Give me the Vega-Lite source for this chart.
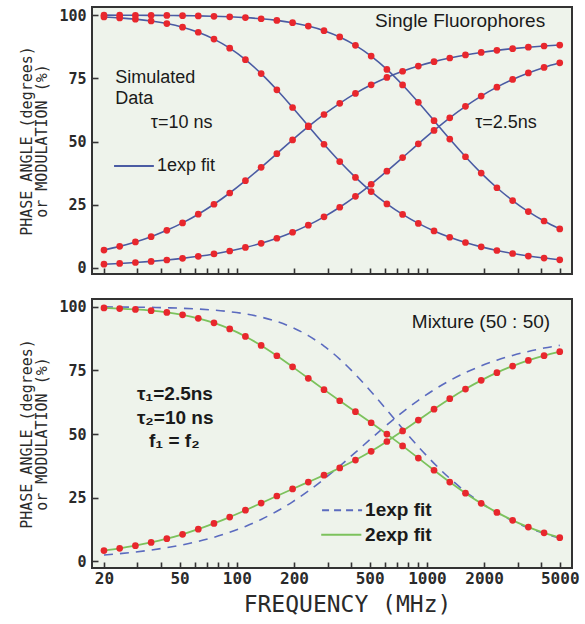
{
  "$schema": "https://vega.github.io/schema/vega-lite/v6.json",
  "background": "white",
  "padding": {"left": 18, "top": 6, "right": 8, "bottom": 4},
  "spacing": 21,
  "config": {
    "view": {"stroke": "#333333", "strokeWidth": 2, "fill": "#eef3eb"},
    "axis": {
      "domain": false, "grid": false, "tickSize": -6, "tickWidth": 1.6, "tickColor": "#333333",
      "labelFont": "DejaVu Sans Mono", "labelFontWeight": "bold", "labelFontSize": 16, "labelColor": "#2a2a2a",
      "labelOverlap": false, "labelFlush": false, "labelBound": false,
      "titleFont": "DejaVu Sans Mono", "titleFontWeight": "normal", "titleColor": "#2a2a2a"
    }
  },
  "datasets": {
    "single": [
      {"f": 20, "v": 7.07, "s": "P10"}, {"f": 24.19, "v": 8.53, "s": "P10"}, {"f": 29.27, "v": 10.29, "s": "P10"}, {"f": 35.41, "v": 12.38, "s": "P10"}, {"f": 42.83, "v": 14.87, "s": "P10"}, {"f": 51.82, "v": 17.81, "s": "P10"}, {"f": 62.68, "v": 21.24, "s": "P10"}, {"f": 75.83, "v": 25.18, "s": "P10"}, {"f": 91.74, "v": 29.64, "s": "P10"}, {"f": 110.98, "v": 34.53, "s": "P10"}, {"f": 134.26, "v": 39.78, "s": "P10"}, {"f": 162.42, "v": 45.2, "s": "P10"}, {"f": 196.48, "v": 50.64, "s": "P10"}, {"f": 237.69, "v": 55.84, "s": "P10"}, {"f": 287.55, "v": 60.69, "s": "P10"}, {"f": 347.86, "v": 65.11, "s": "P10"}, {"f": 420.83, "v": 69.03, "s": "P10"}, {"f": 509.1, "v": 72.42, "s": "P10"}, {"f": 615.89, "v": 75.33, "s": "P10"}, {"f": 745.07, "v": 77.79, "s": "P10"}, {"f": 901.35, "v": 79.85, "s": "P10"}, {"f": 1090.4, "v": 81.59, "s": "P10"}, {"f": 1319.1, "v": 83.03, "s": "P10"}, {"f": 1595.8, "v": 84.23, "s": "P10"}, {"f": 1930.5, "v": 85.22, "s": "P10"}, {"f": 2335.5, "v": 86.05, "s": "P10"}, {"f": 2825.3, "v": 86.73, "s": "P10"}, {"f": 3417.9, "v": 87.3, "s": "P10"}, {"f": 4134.9, "v": 87.77, "s": "P10"}, {"f": 5000, "v": 88.15, "s": "P10"},
      {"f": 20, "v": 99.24, "s": "M10"}, {"f": 24.19, "v": 98.89, "s": "M10"}, {"f": 29.27, "v": 98.39, "s": "M10"}, {"f": 35.41, "v": 97.67, "s": "M10"}, {"f": 42.83, "v": 96.65, "s": "M10"}, {"f": 51.82, "v": 95.21, "s": "M10"}, {"f": 62.68, "v": 93.21, "s": "M10"}, {"f": 75.83, "v": 90.5, "s": "M10"}, {"f": 91.74, "v": 86.92, "s": "M10"}, {"f": 110.98, "v": 82.38, "s": "M10"}, {"f": 134.26, "v": 76.86, "s": "M10"}, {"f": 162.42, "v": 70.46, "s": "M10"}, {"f": 196.48, "v": 63.45, "s": "M10"}, {"f": 237.69, "v": 56.15, "s": "M10"}, {"f": 287.55, "v": 48.92, "s": "M10"}, {"f": 347.86, "v": 42.07, "s": "M10"}, {"f": 420.83, "v": 35.79, "s": "M10"}, {"f": 509.1, "v": 30.2, "s": "M10"}, {"f": 615.89, "v": 25.33, "s": "M10"}, {"f": 745.07, "v": 21.16, "s": "M10"}, {"f": 901.35, "v": 17.61, "s": "M10"}, {"f": 1090.4, "v": 14.63, "s": "M10"}, {"f": 1319.1, "v": 12.14, "s": "M10"}, {"f": 1595.8, "v": 10.06, "s": "M10"}, {"f": 1930.5, "v": 8.33, "s": "M10"}, {"f": 2335.5, "v": 6.89, "s": "M10"}, {"f": 2825.3, "v": 5.7, "s": "M10"}, {"f": 3417.9, "v": 4.71, "s": "M10"}, {"f": 4134.9, "v": 3.9, "s": "M10"}, {"f": 5000, "v": 3.22, "s": "M10"},
      {"f": 20, "v": 1.47, "s": "P25"}, {"f": 24.19, "v": 1.77, "s": "P25"}, {"f": 29.27, "v": 2.15, "s": "P25"}, {"f": 35.41, "v": 2.59, "s": "P25"}, {"f": 42.83, "v": 3.14, "s": "P25"}, {"f": 51.82, "v": 3.79, "s": "P25"}, {"f": 62.68, "v": 4.59, "s": "P25"}, {"f": 75.83, "v": 5.54, "s": "P25"}, {"f": 91.74, "v": 6.7, "s": "P25"}, {"f": 110.98, "v": 8.09, "s": "P25"}, {"f": 134.26, "v": 9.75, "s": "P25"}, {"f": 162.42, "v": 11.74, "s": "P25"}, {"f": 196.48, "v": 14.12, "s": "P25"}, {"f": 237.69, "v": 16.92, "s": "P25"}, {"f": 287.55, "v": 20.21, "s": "P25"}, {"f": 347.86, "v": 24.0, "s": "P25"}, {"f": 420.83, "v": 28.31, "s": "P25"}, {"f": 509.1, "v": 33.09, "s": "P25"}, {"f": 615.89, "v": 38.25, "s": "P25"}, {"f": 745.07, "v": 43.64, "s": "P25"}, {"f": 901.35, "v": 49.09, "s": "P25"}, {"f": 1090.4, "v": 54.38, "s": "P25"}, {"f": 1319.1, "v": 59.38, "s": "P25"}, {"f": 1595.8, "v": 63.91, "s": "P25"}, {"f": 1930.5, "v": 67.97, "s": "P25"}, {"f": 2335.5, "v": 71.5, "s": "P25"}, {"f": 2825.3, "v": 74.54, "s": "P25"}, {"f": 3417.9, "v": 77.12, "s": "P25"}, {"f": 4134.9, "v": 79.3, "s": "P25"}, {"f": 5000, "v": 81.12, "s": "P25"},
      {"f": 20, "v": 99.97, "s": "M25"}, {"f": 24.19, "v": 99.95, "s": "M25"}, {"f": 29.27, "v": 99.93, "s": "M25"}, {"f": 35.41, "v": 99.9, "s": "M25"}, {"f": 42.83, "v": 99.85, "s": "M25"}, {"f": 51.82, "v": 99.78, "s": "M25"}, {"f": 62.68, "v": 99.68, "s": "M25"}, {"f": 75.83, "v": 99.53, "s": "M25"}, {"f": 91.74, "v": 99.32, "s": "M25"}, {"f": 110.98, "v": 99.01, "s": "M25"}, {"f": 134.26, "v": 98.55, "s": "M25"}, {"f": 162.42, "v": 97.91, "s": "M25"}, {"f": 196.48, "v": 96.98, "s": "M25"}, {"f": 237.69, "v": 95.67, "s": "M25"}, {"f": 287.55, "v": 93.84, "s": "M25"}, {"f": 347.86, "v": 91.35, "s": "M25"}, {"f": 420.83, "v": 88.04, "s": "M25"}, {"f": 509.1, "v": 83.78, "s": "M25"}, {"f": 615.89, "v": 78.53, "s": "M25"}, {"f": 745.07, "v": 72.37, "s": "M25"}, {"f": 901.35, "v": 65.5, "s": "M25"}, {"f": 1090.4, "v": 58.24, "s": "M25"}, {"f": 1319.1, "v": 50.96, "s": "M25"}, {"f": 1595.8, "v": 43.97, "s": "M25"}, {"f": 1930.5, "v": 37.51, "s": "M25"}, {"f": 2335.5, "v": 31.72, "s": "M25"}, {"f": 2825.3, "v": 26.65, "s": "M25"}, {"f": 3417.9, "v": 22.28, "s": "M25"}, {"f": 4134.9, "v": 18.57, "s": "M25"}, {"f": 5000, "v": 15.44, "s": "M25"}
    ],
    "mix": [
      {"f": 20, "v": 4.26, "s": "P"}, {"f": 24.19, "v": 5.13, "s": "P"}, {"f": 29.27, "v": 6.18, "s": "P"}, {"f": 35.41, "v": 7.43, "s": "P"}, {"f": 42.83, "v": 8.91, "s": "P"}, {"f": 51.82, "v": 10.64, "s": "P"}, {"f": 62.68, "v": 12.63, "s": "P"}, {"f": 75.83, "v": 14.89, "s": "P"}, {"f": 91.74, "v": 17.39, "s": "P"}, {"f": 110.98, "v": 20.08, "s": "P"}, {"f": 134.26, "v": 22.87, "s": "P"}, {"f": 162.42, "v": 25.67, "s": "P"}, {"f": 196.48, "v": 28.43, "s": "P"}, {"f": 237.69, "v": 31.13, "s": "P"}, {"f": 287.55, "v": 33.84, "s": "P"}, {"f": 347.86, "v": 36.67, "s": "P"}, {"f": 420.83, "v": 39.77, "s": "P"}, {"f": 509.1, "v": 43.22, "s": "P"}, {"f": 615.89, "v": 47.06, "s": "P"}, {"f": 745.07, "v": 51.2, "s": "P"}, {"f": 901.35, "v": 55.47, "s": "P"}, {"f": 1090.4, "v": 59.74, "s": "P"}, {"f": 1319.1, "v": 63.85, "s": "P"}, {"f": 1595.8, "v": 67.65, "s": "P"}, {"f": 1930.5, "v": 71.07, "s": "P"}, {"f": 2335.5, "v": 74.08, "s": "P"}, {"f": 2825.3, "v": 76.68, "s": "P"}, {"f": 3417.9, "v": 78.9, "s": "P"}, {"f": 4134.9, "v": 80.77, "s": "P"}, {"f": 5000, "v": 82.33, "s": "P"},
      {"f": 20, "v": 99.48, "s": "M"}, {"f": 24.19, "v": 99.25, "s": "M"}, {"f": 29.27, "v": 98.91, "s": "M"}, {"f": 35.41, "v": 98.43, "s": "M"}, {"f": 42.83, "v": 97.74, "s": "M"}, {"f": 51.82, "v": 96.77, "s": "M"}, {"f": 62.68, "v": 95.43, "s": "M"}, {"f": 75.83, "v": 93.63, "s": "M"}, {"f": 91.74, "v": 91.27, "s": "M"}, {"f": 110.98, "v": 88.31, "s": "M"}, {"f": 134.26, "v": 84.76, "s": "M"}, {"f": 162.42, "v": 80.72, "s": "M"}, {"f": 196.48, "v": 76.36, "s": "M"}, {"f": 237.69, "v": 71.88, "s": "M"}, {"f": 287.55, "v": 67.42, "s": "M"}, {"f": 347.86, "v": 63.06, "s": "M"}, {"f": 420.83, "v": 58.75, "s": "M"}, {"f": 509.1, "v": 54.42, "s": "M"}, {"f": 615.89, "v": 49.96, "s": "M"}, {"f": 745.07, "v": 45.33, "s": "M"}, {"f": 901.35, "v": 40.57, "s": "M"}, {"f": 1090.4, "v": 35.78, "s": "M"}, {"f": 1319.1, "v": 31.13, "s": "M"}, {"f": 1595.8, "v": 26.76, "s": "M"}, {"f": 1930.5, "v": 22.77, "s": "M"}, {"f": 2335.5, "v": 19.22, "s": "M"}, {"f": 2825.3, "v": 16.12, "s": "M"}, {"f": 3417.9, "v": 13.47, "s": "M"}, {"f": 4134.9, "v": 11.21, "s": "M"}, {"f": 5000, "v": 9.32, "s": "M"}
    ],
    "fit1": [
      {"f": 20, "v": 2.52, "s": "P"}, {"f": 24.19, "v": 3.05, "s": "P"}, {"f": 29.27, "v": 3.68, "s": "P"}, {"f": 35.41, "v": 4.45, "s": "P"}, {"f": 42.83, "v": 5.38, "s": "P"}, {"f": 51.82, "v": 6.5, "s": "P"}, {"f": 62.68, "v": 7.85, "s": "P"}, {"f": 75.83, "v": 9.47, "s": "P"}, {"f": 91.74, "v": 11.41, "s": "P"}, {"f": 110.98, "v": 13.72, "s": "P"}, {"f": 134.26, "v": 16.46, "s": "P"}, {"f": 162.42, "v": 19.66, "s": "P"}, {"f": 196.48, "v": 23.38, "s": "P"}, {"f": 237.69, "v": 27.61, "s": "P"}, {"f": 287.55, "v": 32.32, "s": "P"}, {"f": 347.86, "v": 37.43, "s": "P"}, {"f": 420.83, "v": 42.79, "s": "P"}, {"f": 509.1, "v": 48.24, "s": "P"}, {"f": 615.89, "v": 53.57, "s": "P"}, {"f": 745.07, "v": 58.6, "s": "P"}, {"f": 901.35, "v": 63.24, "s": "P"}, {"f": 1090.4, "v": 67.37, "s": "P"}, {"f": 1319.1, "v": 70.99, "s": "P"}, {"f": 1595.8, "v": 74.1, "s": "P"}, {"f": 1930.5, "v": 76.75, "s": "P"}, {"f": 2335.5, "v": 78.99, "s": "P"}, {"f": 2825.3, "v": 80.86, "s": "P"}, {"f": 3417.9, "v": 82.42, "s": "P"}, {"f": 4134.9, "v": 83.73, "s": "P"}, {"f": 5000, "v": 84.81, "s": "P"},
      {"f": 20, "v": 99.9, "s": "M"}, {"f": 24.19, "v": 99.86, "s": "M"}, {"f": 29.27, "v": 99.79, "s": "M"}, {"f": 35.41, "v": 99.7, "s": "M"}, {"f": 42.83, "v": 99.56, "s": "M"}, {"f": 51.82, "v": 99.36, "s": "M"}, {"f": 62.68, "v": 99.06, "s": "M"}, {"f": 75.83, "v": 98.64, "s": "M"}, {"f": 91.74, "v": 98.02, "s": "M"}, {"f": 110.98, "v": 97.15, "s": "M"}, {"f": 134.26, "v": 95.9, "s": "M"}, {"f": 162.42, "v": 94.17, "s": "M"}, {"f": 196.48, "v": 91.79, "s": "M"}, {"f": 237.69, "v": 88.62, "s": "M"}, {"f": 287.55, "v": 84.51, "s": "M"}, {"f": 347.86, "v": 79.41, "s": "M"}, {"f": 420.83, "v": 73.38, "s": "M"}, {"f": 509.1, "v": 66.6, "s": "M"}, {"f": 615.89, "v": 59.38, "s": "M"}, {"f": 745.07, "v": 52.08, "s": "M"}, {"f": 901.35, "v": 45.03, "s": "M"}, {"f": 1090.4, "v": 38.48, "s": "M"}, {"f": 1319.1, "v": 32.58, "s": "M"}, {"f": 1595.8, "v": 27.39, "s": "M"}, {"f": 1930.5, "v": 22.92, "s": "M"}, {"f": 2335.5, "v": 19.1, "s": "M"}, {"f": 2825.3, "v": 15.88, "s": "M"}, {"f": 3417.9, "v": 13.18, "s": "M"}, {"f": 4134.9, "v": 10.93, "s": "M"}, {"f": 5000, "v": 9.05, "s": "M"}
    ],
    "topLeftNotes": [
      {"f": 22.9, "y": 75.1, "t": "Simulated", "w": "normal"},
      {"f": 22.9, "y": 66.8, "t": "Data", "w": "normal"},
      {"f": 35.3, "y": 57.4, "t": "τ=10 ns", "w": "bold"},
      {"f": 38.0, "y": 40.3, "t": "1exp fit", "w": "bold"},
      {"f": 1794, "y": 57.4, "t": "τ=2.5ns", "w": "bold"}
    ],
    "topRightNotes": [
      {"f": 4190, "y": 97.6, "t": "Single Fluorophores"}
    ],
    "topLegend": [
      {"f": 22.6, "f2": 36.6, "y": 40.3}
    ],
    "botLeftNotes": [
      {"f": 29.8, "y": 65.9, "t": "τ₁=2.5ns"},
      {"f": 29.8, "y": 56.1, "t": "τ₂=10 ns"},
      {"f": 34.5, "y": 47.2, "t": "f₁ = f₂"},
      {"f": 473, "y": 20.1, "t": "1exp  fit"},
      {"f": 473, "y": 10.5, "t": "2exp fit"}
    ],
    "botRightNotes": [
      {"f": 4450, "y": 94.1, "t": "Mixture  (50 : 50)"}
    ],
    "botLegendDash": [
      {"f": 280.8, "f2": 456, "y": 20.1}
    ],
    "botLegendGreen": [
      {"f": 278, "f2": 452, "y": 10.5}
    ]
  },
  "vconcat": [
    {
      "width": 480,
      "height": 267,
      "encoding": {
        "x": {"field": "f", "type": "quantitative", "scale": {"type": "log", "domain": [17.3, 5800], "nice": false},
              "axis": {"values": [20,30,40,50,60,70,80,90,100,200,300,400,500,600,700,800,900,1000,2000,3000,4000,5000], "labels": false, "title": null}},
        "y": {"field": "v", "type": "quantitative", "scale": {"domain": [-2.4, 103.2], "nice": false, "zero": false},
              "axis": {"values": [0,25,50,75,100], "labelPadding": 12, "labelFontSize": 15,
                       "title": ["PHASE  ANGLE  (degrees)", "or  MODULATION  (%)"], "titleFontSize": 15, "titleLineHeight": 15, "titlePadding": 9}}
      },
      "layer": [
        {"data": {"name": "single"}, "mark": {"type": "line", "interpolate": "monotone", "color": "#4a5ba3", "strokeWidth": 1.6},
         "encoding": {"detail": {"field": "s"}}},
        {"data": {"name": "single"}, "mark": {"type": "point", "filled": true, "size": 45, "color": "#e8272d", "opacity": 1}},
        {"data": {"name": "topLegend"}, "mark": {"type": "rule", "color": "#4a5ba3", "strokeWidth": 2},
         "encoding": {"x2": {"field": "f2"}, "y": {"field": "y", "type": "quantitative"}}},
        {"data": {"name": "topLeftNotes"}, "mark": {"type": "text", "align": "left", "baseline": "middle", "font": "Liberation Sans", "fontSize": 18, "color": "#1a1a1a"},
         "encoding": {"y": {"field": "y", "type": "quantitative"}, "text": {"field": "t"}, "fontWeight": {"field": "w", "type": "nominal", "scale": null}}},
        {"data": {"name": "topRightNotes"}, "mark": {"type": "text", "align": "right", "baseline": "middle", "font": "Liberation Sans", "fontSize": 19, "color": "#1a1a1a"},
         "encoding": {"y": {"field": "y", "type": "quantitative"}, "text": {"field": "t"}}}
      ]
    },
    {
      "width": 480,
      "height": 269,
      "encoding": {
        "x": {"field": "f", "type": "quantitative", "scale": {"type": "log", "domain": [17.3, 5800], "nice": false},
              "axis": {"values": [20,30,40,50,60,70,80,90,100,200,300,400,500,600,700,800,900,1000,2000,3000,4000,5000],
                       "format": "d", "labelExpr": "indexof([20,50,100,200,500,1000,2000,5000], datum.value) >= 0 ? datum.label : ''",
                       "labelPadding": 8, "title": "FREQUENCY  (MHz)", "titleFontSize": 23, "titlePadding": 7, "titleX": 255}},
        "y": {"field": "v", "type": "quantitative", "scale": {"domain": [-2.6, 103.0], "nice": false, "zero": false},
              "axis": {"values": [0,25,50,75,100], "labelPadding": 12, "labelFontSize": 15,
                       "title": ["PHASE  ANGLE  (degrees)", "or  MODULATION  (%)"], "titleFontSize": 15, "titleLineHeight": 15, "titlePadding": 9}}
      },
      "layer": [
        {"data": {"name": "fit1"}, "mark": {"type": "line", "interpolate": "monotone", "color": "#5b6bbf", "strokeWidth": 1.6, "strokeDash": [9, 7]},
         "encoding": {"detail": {"field": "s"}}},
        {"data": {"name": "mix"}, "mark": {"type": "line", "interpolate": "monotone", "color": "#7cc25c", "strokeWidth": 1.8},
         "encoding": {"detail": {"field": "s"}}},
        {"data": {"name": "mix"}, "mark": {"type": "point", "filled": true, "size": 45, "color": "#e8272d", "opacity": 1}},
        {"data": {"name": "botLegendDash"}, "mark": {"type": "rule", "color": "#5b6bbf", "strokeWidth": 2, "strokeDash": [7, 5]},
         "encoding": {"x2": {"field": "f2"}, "y": {"field": "y", "type": "quantitative"}}},
        {"data": {"name": "botLegendGreen"}, "mark": {"type": "rule", "color": "#7cc25c", "strokeWidth": 2},
         "encoding": {"x2": {"field": "f2"}, "y": {"field": "y", "type": "quantitative"}}},
        {"data": {"name": "botLeftNotes"}, "mark": {"type": "text", "align": "left", "baseline": "middle", "font": "Liberation Sans", "fontSize": 19, "fontWeight": "bold", "color": "#1a1a1a"},
         "encoding": {"y": {"field": "y", "type": "quantitative"}, "text": {"field": "t"}}},
        {"data": {"name": "botRightNotes"}, "mark": {"type": "text", "align": "right", "baseline": "middle", "font": "Liberation Sans", "fontSize": 19, "color": "#1a1a1a"},
         "encoding": {"y": {"field": "y", "type": "quantitative"}, "text": {"field": "t"}}}
      ]
    }
  ]
}
